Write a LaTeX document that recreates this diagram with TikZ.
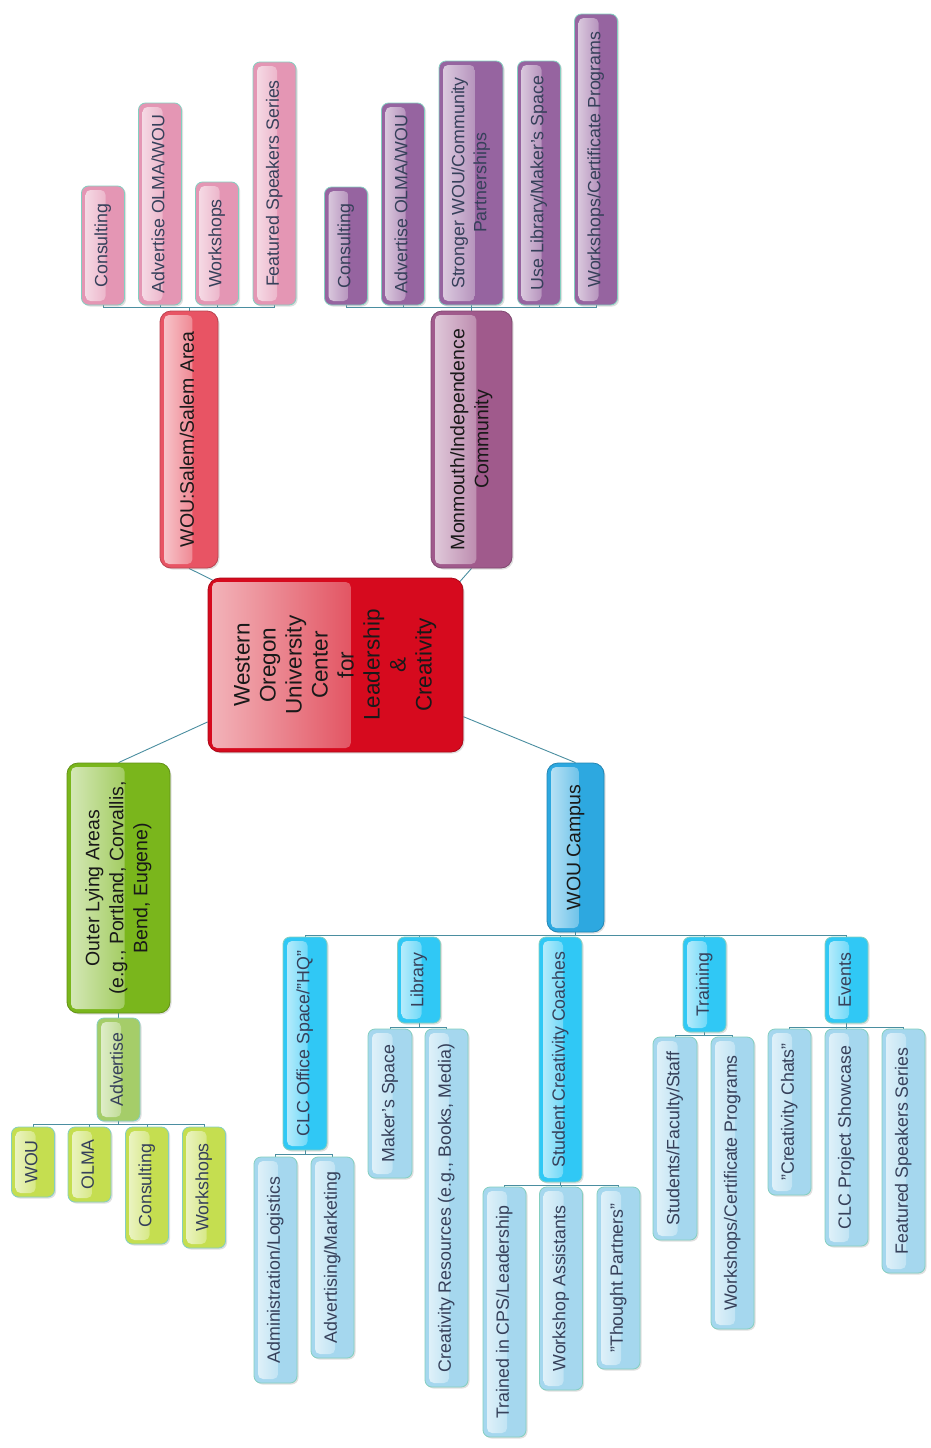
\documentclass[tikz,border=0pt]{standalone}
\usepackage{fontspec}
\setmainfont{Liberation Sans}
\usepackage{graphicx}
\usetikzlibrary{calc,shadows,backgrounds}

\definecolor{linkc}{HTML}{4A8EA0}
\definecolor{edgec}{HTML}{84CFC0}
\definecolor{txtc}{HTML}{36405A}
\definecolor{pinkleaf}{HTML}{E496B4}
\definecolor{salemc}{HTML}{E85464}
\definecolor{centrec}{HTML}{D60A1E}
\definecolor{monmc}{HTML}{A05A8C}
\definecolor{purpleleaf}{HTML}{9664A0}
\definecolor{outerc}{HTML}{7AB61C}
\definecolor{advc}{HTML}{A5CD69}
\definecolor{greenleaf}{HTML}{C5DE50}
\definecolor{campusc}{HTML}{2DA8E0}
\definecolor{areac}{HTML}{30C8F5}
\definecolor{blueleaf}{HTML}{A5D7EE}

% rotated (bottom-to-top) text, several lines allowed
\newcommand{\vtext}[1]{\rotatebox{90}{\begin{tabular}{@{}c@{}}#1\end{tabular}}}

\tikzset{
  box/.style={rounded corners=7pt, fill=#1, draw=edgec, line width=0.8pt,
    minimum width=43pt, inner sep=2pt, text=txtc,
    font=\fontsize{17.8}{22}\selectfont,
    drop shadow={shadow xshift=1.5pt, shadow yshift=-1.5pt, opacity=0.25},
    path picture={\shade[left color=#1!30!white, right color=#1, rounded corners=5pt]
      ($(path picture bounding box.south west)+(4pt,4pt)$) rectangle
      ($(path picture bounding box.north west)!0.56!(path picture bounding box.north east)+(0pt,-4pt)$);}},
  branch/.style={box=#1, rounded corners=11pt, draw=#1!80!black, text=black!90,
    font=\fontsize{19.5}{24}\selectfont},
  link/.style={draw=linkc, line width=0.9pt},
}

\begin{document}
\begin{tikzpicture}[x=1pt,y=-1pt]
  \useasboundingbox (0,0) rectangle (931,1448);

  % centre
  \node[box=centrec, draw=centrec!80!black, rounded corners=12pt, text=black!90,
        font=\fontsize{22.5}{26}\selectfont, minimum width=255pt, minimum height=174pt]
        (centre) at (335.5,665) {\vtext{Western\\Oregon\\University\\Center\\for\\Leadership\\\&\\Creativity}};

  % WOU:Salem/Salem Area
  \node[branch=salemc, minimum width=58pt, minimum height=257pt] (salem) at (189,439.5) {\vtext{WOU:Salem/Salem Area}};
  \node[box=pinkleaf, minimum height=119pt] (sc1) at (103,245.5) {\vtext{Consulting}};
  \node[box=pinkleaf, minimum height=202pt] (sc2) at (160,204) {\vtext{Advertise OLMA/WOU}};
  \node[box=pinkleaf, minimum height=123pt] (sc3) at (217,243.5) {\vtext{Workshops}};
  \node[box=pinkleaf, minimum height=243pt] (sc4) at (274.5,183.5) {\vtext{Featured Speakers Series}};

  % Monmouth/Independence Community
  \node[branch=monmc, minimum width=81pt, minimum height=257pt] (monm) at (471.5,439.5) {\vtext{Monmouth/Independence\\Community}};
  \node[box=purpleleaf, minimum height=118pt] (mc1) at (346,246) {\vtext{Consulting}};
  \node[box=purpleleaf, minimum height=202pt] (mc2) at (403,204) {\vtext{Advertise OLMA/WOU}};
  \node[box=purpleleaf, minimum width=64pt, minimum height=244pt] (mc3) at (471,183) {\vtext{Stronger WOU/Community\\Partnerships}};
  \node[box=purpleleaf, minimum height=244pt] (mc4) at (539,183) {\vtext{Use Library/Maker's Space}};
  \node[box=purpleleaf, minimum height=291pt] (mc5) at (596,159.5) {\vtext{Workshops/Certificate Programs}};

  % Outer Lying Areas
  \node[branch=outerc, minimum width=103pt, minimum height=250pt] (outer) at (118.5,888) {\vtext{Outer Lying Areas\\(e.g., Portland, Corvallis,\\Bend, Eugene)}};
  \node[box=advc, minimum height=103pt] (adv) at (118.5,1069.5) {\vtext{Advertise}};
  \node[box=greenleaf, minimum height=70pt] (ol1) at (33,1162) {\vtext{WOU}};
  \node[box=greenleaf, minimum height=75pt] (ol2) at (89.5,1164.5) {\vtext{OLMA}};
  \node[box=greenleaf, minimum height=117pt] (ol3) at (147,1185.5) {\vtext{Consulting}};
  \node[box=greenleaf, minimum height=121pt] (ol4) at (204,1187.5) {\vtext{Workshops}};

  % WOU Campus
  \node[branch=campusc, minimum width=57pt, minimum height=169pt] (campus) at (575.5,847.5) {\vtext{WOU Campus}};
  \node[box=areac, minimum width=44pt, minimum height=213pt] (clc) at (305,1043.5) {\vtext{CLC Office Space/"HQ"}};
  \node[box=areac, minimum height=86pt] (lib) at (419,980) {\vtext{Library}};
  \node[box=areac, minimum height=245pt] (coach) at (560.5,1059.5) {\vtext{Student Creativity Coaches}};
  \node[box=areac, minimum height=95pt] (trn) at (704.5,984.5) {\vtext{Training}};
  \node[box=areac, minimum height=86pt] (evt) at (846.5,980) {\vtext{Events}};

  \node[box=blueleaf, minimum height=226pt] (cl1) at (275.5,1270) {\vtext{Administration/Logistics}};
  \node[box=blueleaf, minimum height=201pt] (cl2) at (332.5,1257.5) {\vtext{Advertising/Marketing}};
  \node[box=blueleaf, minimum width=44pt, minimum height=149pt] (lb1) at (390,1103.5) {\vtext{Maker's Space}};
  \node[box=blueleaf, minimum height=358pt] (lb2) at (446.5,1208) {\vtext{Creativity Resources (e.g., Books, Media)}};
  \node[box=blueleaf, minimum height=250pt] (co1) at (504.5,1312) {\vtext{Trained in CPS/Leadership}};
  \node[box=blueleaf, minimum height=203pt] (co2) at (561,1288.5) {\vtext{Workshop Assistants}};
  \node[box=blueleaf, minimum height=182pt] (co3) at (618.5,1278) {\vtext{"Thought Partners"}};
  \node[box=blueleaf, minimum width=44pt, minimum height=203pt] (tr1) at (675,1138.5) {\vtext{Students/Faculty/Staff}};
  \node[box=blueleaf, minimum height=292pt] (tr2) at (732.5,1183) {\vtext{Workshops/Certificate Programs}};
  \node[box=blueleaf, minimum height=166pt] (ev1) at (789.5,1112) {\vtext{"Creativity Chats"}};
  \node[box=blueleaf, minimum height=217pt] (ev2) at (846.5,1137.5) {\vtext{CLC Project Showcase}};
  \node[box=blueleaf, minimum height=244pt] (ev3) at (903.5,1151) {\vtext{Featured Speakers Series}};

  \begin{scope}[on background layer]
    \fill[white] (0,0) rectangle (931,1448);
    \draw[link, shorten >=-8pt] (salem.south) -- (centre.north west);
    \draw[link, shorten >=-8pt] (monm.south) -- (centre.north east);
    \draw[link] (outer.north) -- (centre.204);
    \draw[link] (campus.north) -- (centre.338);
    \draw[link] (outer.south) -- (adv.north);
    \foreach \c in {sc1,sc2,sc3,sc4}
      \draw[link] (salem.north) -- ++(0,-3) -| (\c.south);
    \foreach \c in {mc1,mc2,mc3,mc4,mc5}
      \draw[link] (monm.north) -- ++(0,-3) -| (\c.south);
    \foreach \c in {ol1,ol2,ol3,ol4}
      \draw[link] (adv.south) -- ++(0,3) -| (\c.north);
    \foreach \c in {clc,lib,coach,trn,evt}
      \draw[link] (campus.south) -- ++(0,3) -| (\c.north);
    \foreach \c in {cl1,cl2}
      \draw[link] (clc.south) -- ++(0,4) -| (\c.north);
    \foreach \c in {lb1,lb2}
      \draw[link] (lib.south) -- ++(0,4) -| (\c.north);
    \foreach \c in {co1,co2,co3}
      \draw[link] (coach.south) -- ++(0,3) -| (\c.north);
    \foreach \c in {tr1,tr2}
      \draw[link] (trn.south) -- ++(0,3) -| (\c.north);
    \foreach \c in {ev1,ev2,ev3}
      \draw[link] (evt.south) -- ++(0,4) -| (\c.north);
  \end{scope}
\end{tikzpicture}
\end{document}
